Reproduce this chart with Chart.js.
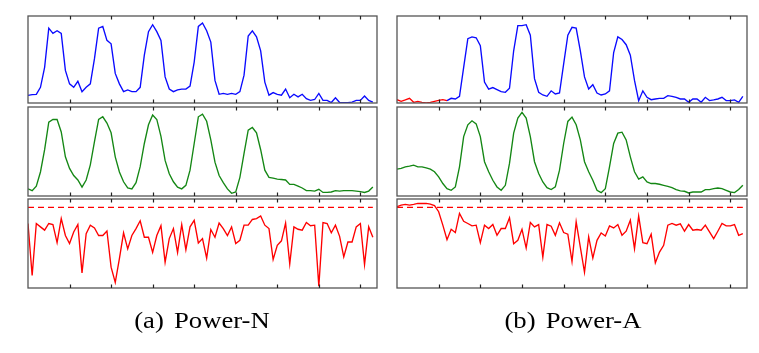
<!DOCTYPE html>
<html>
<head>
<meta charset="utf-8">
<script src="https://cdn.jsdelivr.net/npm/chart.js@4/dist/chart.umd.min.js"></script>
<style>
  body { margin: 0; background: #fff; width: 759px; height: 353px; position: relative; overflow: hidden; }
  canvas { position: absolute; }
  .cap {
    position: absolute; top: 309px; width: 200px; text-align: center;
    font-family: "Liberation Serif", "Times New Roman", serif; font-size: 23px; line-height: 23px;
    color: #000; transform: scaleX(1.16); word-spacing: 3px;
  }
</style>
</head>
<body>
<canvas id="c0"></canvas>
<canvas id="c1"></canvas>
<canvas id="c2"></canvas>
<canvas id="c3"></canvas>
<canvas id="c4"></canvas>
<canvas id="c5"></canvas>
<div class="cap" style="left:102px">(a) Power-N</div>
<div class="cap" style="left:473px">(b) Power-A</div>
<script>
// ---- data (0..100 = bottom..top of each panel) ----
const tickValues = [10, 20, 30, 40, 50, 60, 70, 80];

const blueN = [8.8, 9.6, 10, 18, 41, 86, 80, 83, 80, 37.5,
  22, 18, 25, 13, 18, 22, 51, 86, 88, 72,
  68, 34, 22, 13, 15, 13, 13, 18, 55, 82,
  90, 82, 72, 30, 16, 13, 15, 16, 16, 19.5,
  47, 88, 92, 83, 70, 26, 10, 11, 10, 11,
  10, 13, 32, 77, 83, 76, 60, 24, 9, 12,
  10, 9, 16, 6, 10, 7, 10, 5, 3, 4,
  11, 3, 3, 0.5, 6, 0.5, 0.5, 0.5, 1, 3,
  3, 8, 3, 1];

const greenN = [8, 6, 11, 27, 52, 83, 86, 86, 72, 44,
  31, 23, 18, 10, 18, 35, 61, 86, 89, 82,
  71, 44, 27, 16, 9, 8, 15, 33, 59, 80,
  91, 86, 67, 40, 25, 16, 10, 8, 12, 29,
  59, 89, 92, 84, 63, 38, 23, 15, 8, 3,
  4.5, 21, 48, 74, 77, 71, 52, 29, 21, 20,
  19, 18.5, 18, 13, 13, 11, 9, 6, 6, 5.5,
  7.5, 4, 4, 4.5, 6, 5.5, 6, 6, 6, 5.5,
  5, 4, 5.5, 10];

const redN = [72.5, 14, 72.5, 68.7, 65, 72.5, 71.3, 51, 78, 59,
  50, 63, 71.3, 17, 61, 70.6, 67.5, 59, 59, 64,
  23.4, 6.4, 33, 62, 44, 59, 66.8, 75.5, 57, 57,
  40, 59, 70, 29, 55.5, 66.8, 40, 71.3, 43, 68.7,
  76, 50.6, 55.5, 33.6, 65.7, 57, 73, 66.8, 59, 68.7,
  50, 53.6, 70.6, 70.6, 77, 78, 81, 70.6, 66.8, 32,
  48, 53, 73, 27, 68.7, 66, 65, 73.6, 70, 70.6,
  2, 73.6, 72.5, 62, 70.6, 58, 35, 51.7, 51.7, 68.7,
  72.5, 26.4, 68.7, 57];

const blueA = [3.8, 1.9, 3.5, 5.4, 0.8, 1.9, 0.8, 0, 0.8, 1.9,
  3, 3.8, 2.7, 5.4, 4.6, 7.7, 41, 74, 76, 75,
  66, 24, 16, 17.7, 15.4, 13, 12.3, 17, 60, 89,
  89, 90, 78, 28, 12.3, 9.2, 7.7, 14, 10.4, 11.5,
  45, 78, 87, 86, 60, 30, 16, 21, 11.5, 9.2,
  10.4, 14, 58, 76, 73, 67, 55, 26, 2.7, 14,
  6.5, 3.8, 4.6, 5.4, 5.4, 8.5, 7.7, 6.5, 4.6, 4.6,
  0.8, 4.6, 4.6, 0.8, 6.5, 2.7, 3.5, 4.6, 6.5, 2.7,
  2.7, 3.5, 0.8, 7.7];

const greenA = [30.2, 31, 32.8, 33.6, 34.7, 32.8, 32.8, 31.7, 30.2, 27.2,
  21.5, 14, 8.3, 6.4, 10.2, 32.8, 66.8, 80, 84.5, 81,
  66.8, 38.5, 27.2, 17.7, 10.2, 6.4, 12, 36.6, 70.6, 87.5,
  94, 87.5, 66.8, 38.5, 25.3, 15.8, 9.4, 7.2, 10.2, 29,
  59, 83.8, 88.7, 80, 63, 38.5, 27.2, 17.7, 6.4, 3.8,
  8.3, 32.8, 59, 70.6, 71.7, 63, 44, 27.2, 18.9, 21.5,
  15.8, 14, 14, 13.2, 12, 10.9, 9.4, 7.2, 5.7, 5.3,
  3.4, 4.5, 4.5, 4.5, 7.2, 7.2, 8.3, 9, 8.3, 6.4,
  4.5, 3.8, 7.2, 12];

const redA = [91.3, 93.2, 94, 93.2, 94, 95, 95, 95, 94.3, 92.5,
  85.7, 70.6, 54.3, 66, 62.3, 83.8, 75, 72.5, 69.8, 70.6,
  51, 70.6, 66.8, 71.3, 59.2, 66.8, 66.8, 78.9, 49.8, 53.6,
  66, 44.9, 73.6, 68.7, 71.3, 34.7, 71.3, 69.4, 59.2, 73.2,
  62.3, 60.4, 29.8, 74.3, 46, 17.7, 57.4, 33.6, 53.6, 61.9,
  58.5, 69.8, 67.5, 71.3, 59.2, 63.8, 76.2, 44.2, 80.8, 51,
  49.8, 60.4, 28.3, 40.4, 47.9, 70.6, 72.5, 70.6, 72, 63.8,
  71.3, 64.9, 65.7, 64.9, 70.6, 63, 55.5, 63.8, 72.5, 69.8,
  69.8, 71.3, 59.2, 61.1];

const thresholdN = 90.6;
const thresholdA = 90.6;
const alertEndA = 12; // top-right trace is red up to this step

// ---- layout ----
const BLUE = "rgb(10,10,255)";
const GREEN = "rgb(20,135,20)";
const RED = "rgb(255,0,0)";
const colLeft = [28, 397];
const colWidth = [349, 350];
const rowTop = [16, 107, 199];
const rowHeight = [87, 89, 89];
const PAD = 2;
const X_MAX = 84;

// frame + inner ticks
const framePlugin = {
  id: "frame",
  afterDraw(chart) {
    const { ctx, chartArea: a, scales } = chart;
    ctx.save();
    ctx.strokeStyle = "#555";
    ctx.lineWidth = 1.3;
    ctx.strokeRect(a.left, a.top, a.right - a.left, a.bottom - a.top);
    ctx.strokeStyle = "#222";
    ctx.lineWidth = 1.2;
    tickValues.forEach((v) => {
      const px = Math.round(scales.x.getPixelForValue(v)) + 0.5;
      ctx.beginPath();
      ctx.moveTo(px, a.top);
      ctx.lineTo(px, a.top + 3.5);
      ctx.moveTo(px, a.bottom);
      ctx.lineTo(px, a.bottom - 3.5);
      ctx.stroke();
    });
    ctx.restore();
  },
};

function toPoints(values) {
  return values.map((v, i) => ({ x: i, y: v }));
}

function lineSet(values, color, extra) {
  return Object.assign({
    data: toPoints(values),
    borderColor: color,
    borderWidth: 1.35,
    pointRadius: 0,
    tension: 0,
    fill: false,
  }, extra || {});
}

function thresholdSet(value, lastStep) {
  return {
    data: [{ x: 0, y: value }, { x: lastStep, y: value }],
    borderColor: RED,
    borderWidth: 1.2,
    borderDash: [6, 4],
    pointRadius: 0,
    fill: false,
  };
}

function makePanel(id, col, row, datasets) {
  const cv = document.getElementById(id);
  const w = colWidth[col] + PAD * 2;
  const h = rowHeight[row] + PAD * 2;
  cv.style.left = colLeft[col] - PAD + "px";
  cv.style.top = rowTop[row] - PAD + "px";
  cv.style.width = w + "px";
  cv.style.height = h + "px";
  cv.width = w;
  cv.height = h;

  return new Chart(cv.getContext("2d"), {
    type: "line",
    data: { datasets: datasets },
    options: {
      responsive: false,
      animation: false,
      layout: { padding: PAD },
      plugins: { legend: { display: false }, tooltip: { enabled: false } },
      scales: {
        x: { type: "linear", min: 0, max: X_MAX, display: false },
        y: { min: 0, max: 100, display: false },
      },
    },
    plugins: [framePlugin],
  });
}

// left: Power-N
makePanel("c0", 0, 0, [lineSet(blueN, BLUE)]);
makePanel("c1", 0, 1, [lineSet(greenN, GREEN)]);
makePanel("c2", 0, 2, [thresholdSet(thresholdN, redN.length - 1), lineSet(redN, RED)]);

// right: Power-A
makePanel("c3", 1, 0, [lineSet(blueA, BLUE, {
  segment: { borderColor: (ctx) => (ctx.p1DataIndex <= alertEndA ? RED : BLUE) },
})]);
makePanel("c4", 1, 1, [lineSet(greenA, GREEN)]);
makePanel("c5", 1, 2, [thresholdSet(thresholdA, redA.length - 1), lineSet(redA, RED)]);
</script>
</body>
</html>
